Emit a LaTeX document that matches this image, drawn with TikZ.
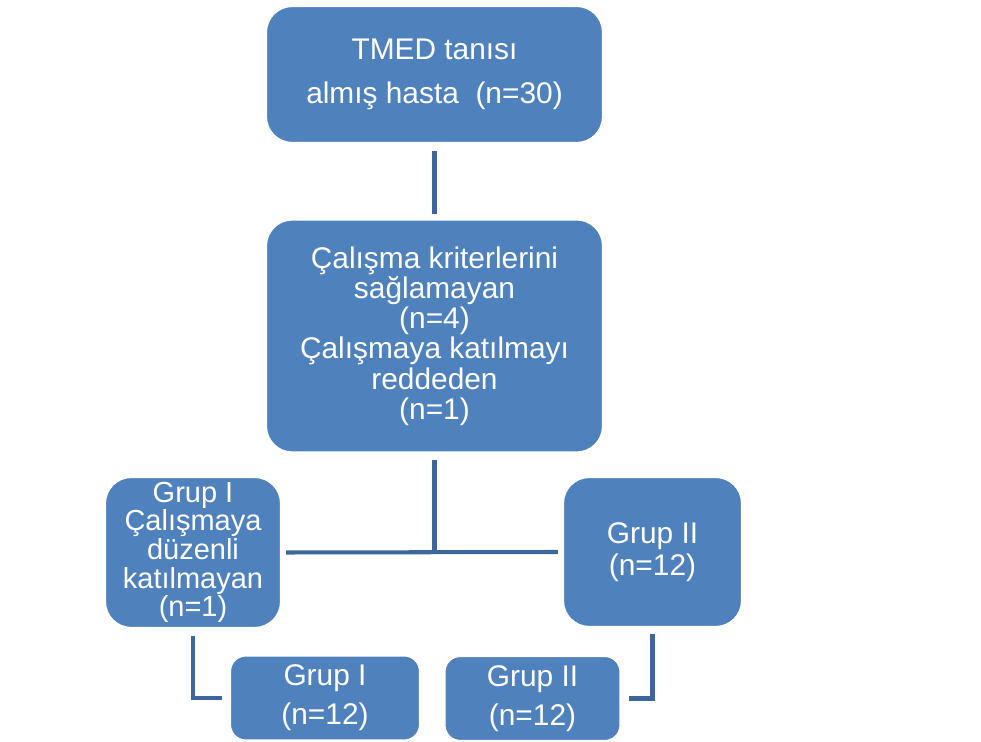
\documentclass[tikz,border=0pt]{standalone}
\usepackage{fontspec}
\setmainfont{Liberation Sans}
\usepackage{tikz}
\usetikzlibrary{positioning,calc}
\definecolor{boxblue}{RGB}{79,129,189}
\definecolor{linkblue}{RGB}{62,102,158}

\begin{document}
\begin{tikzpicture}[
  x=0.02cm, y=-0.02cm,
  box/.style={rectangle, rounded corners=15pt, fill=boxblue, draw=white,
              line width=1.2pt, text=white, align=center, inner sep=0pt,
              font=\fontsize{17}{17.2}\selectfont},
  link/.style={draw=linkblue, line width=2.3pt}]

\useasboundingbox (0,0) rectangle (981,742);

% ================= the boxes =============================================
\node[box, minimum width=337*0.02cm, minimum height=137*0.02cm] (top)
  at (434.5,74.5) {TMED tanısı\\[8pt] almış hasta\ \ (n=30)};
\node[box, minimum width=337*0.02cm, minimum height=233*0.02cm] (mid)
  at (434.5,336) {Çalışma kriterlerini\\ sağlamayan\\ (n=4)\\
                  Çalışmaya katılmayı\\ reddeden\\ (n=1)};
\node[box, font=\fontsize{16.5}{16.3}\selectfont,
      minimum width=176*0.02cm, minimum height=151*0.02cm] (left)
  at (193,552.5) {Grup I\\ Çalışmaya\\ düzenli\\ katılmayan\\ (n=1)};
\node[box, minimum width=179*0.02cm, minimum height=150*0.02cm] (right)
  at (652.5,552) {Grup II\\[1pt] (n=12)};
\node[box, rounded corners=9pt, minimum width=190*0.02cm,
      minimum height=85*0.02cm] (gone)
  at (325,698) {Grup I\\[5pt] (n=12)};
\node[box, rounded corners=9pt, minimum width=176*0.02cm,
      minimum height=85*0.02cm] (gtwo)
  at (532.5,698.5) {Grup II\\[5pt] (n=12)};

% ================= the links =============================================
\draw[link] ($(top.south)+(0,7)$) -- ($(mid.north)+(0,-4)$);
\draw[link] ($(mid.south)+(0,6)$) -- (mid.south |- left.east);
\draw[link] ($(left.east)+(4,0)$) -- ($(right.west)+(-4,0)$);
\draw[link] ($(left.south)+(0,7)$) |- ($(gone.west)+(-7,0)$);
\draw[link] ($(right.south)+(0,6)$) |- ($(gtwo.east)+(7,0)$);

\end{tikzpicture}
\end{document}
